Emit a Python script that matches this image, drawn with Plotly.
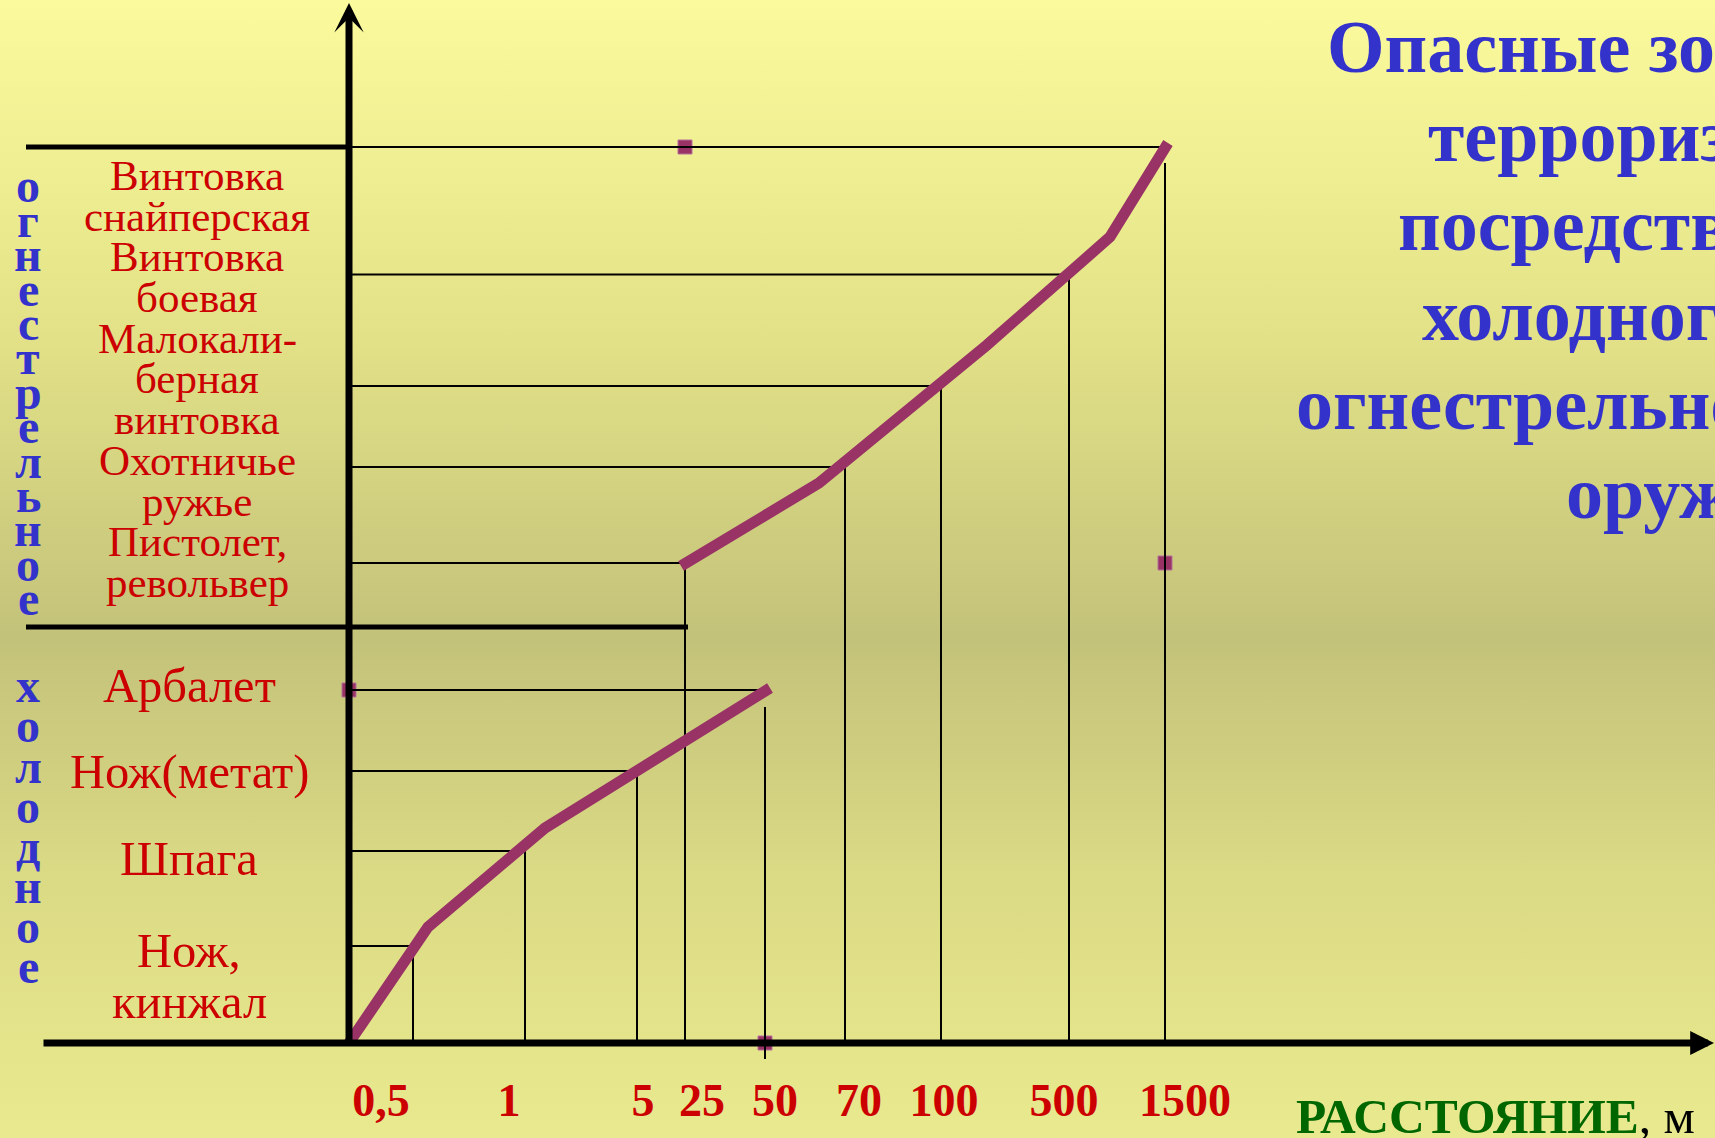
import plotly.graph_objects as go

W, H = 1715, 1138

# ---------------- data (schematic units) ----------------
distance_labels = ["0,5", "1", "5", "25", "50", "70", "100", "500", "1500"]
distance_label_x = [3.2, 16.0, 29.4, 35.3, 42.6, 51.0, 59.5, 71.5, 83.6]

cold_weapons = ["Нож, кинжал", "Шпага", "Нож(метат)", "Арбалет"]
cold_reach_x = [6.4, 17.6, 28.8, 41.6]
cold_level_y = [9.7, 19.2, 27.2, 35.3]
cold_vline_top = [9.7, 19.2, 27.2, 33.6]
cold_vline_bottom = [0, 0, 0, -1.6]

fire_weapons = ["Пистолет, револьвер", "Охотничье ружье", "Малокалиберная винтовка",
                "Винтовка боевая", "Винтовка снайперская"]
fire_reach_x = [33.6, 49.6, 59.2, 72.0, 81.6]
fire_level_y = [48.0, 57.6, 65.7, 76.85, 89.6]
fire_vline_top = [48.0, 57.6, 65.7, 76.85, 88.0]

cold_curve_x = [0, 7.9, 19.6, 42.1]
cold_curve_y = [0, 11.6, 21.5, 35.5]
fire_curve_x = [33.2, 47.0, 63.8, 76.1, 81.9]
fire_curve_y = [47.7, 56.0, 69.8, 80.6, 90.0]

marker_x = [33.6, 0, 41.6, 81.6]
marker_y = [89.6, 35.3, 0, 48.0]

zone_divider_y = 41.6
zone_divider_end_x = 33.9
top_divider_y = 89.6
divider_start_x = -32.3

fire_label_lines = ["Винтовка", "снайперская", "Винтовка", "боевая", "Малокали-",
                    "берная", "винтовка", "Охотничье", "ружье", "Пистолет,", "револьвер"]
cold_label_lines = ["Арбалет", "Нож(метат)", "Шпага", "Нож,", "кинжал"]
fire_word = "огнестрельное"
cold_word = "холодное"
title_lines = ["Опасные зоны", "терроризма", "посредством", "холодного и",
               "огнестрельного", "оружия"]
axis_title_main = "РАССТОЯНИЕ"
axis_title_unit = ", м"

# ---------------- layout constants ----------------
X0, X1 = -34.9, 136.6
Y0, Y1 = -9.5, 104.3
CURVE = "#993366"
RED = "#cc0000"
BLUE = "#3333cc"
GREEN = "#006600"
SERIF = "Liberation Serif"

fig = go.Figure()

# background gradient
fig.add_trace(go.Scatter(
    x=[X0, X1, X1, X0, X0], y=[Y0, Y0, Y1, Y1, Y0],
    mode="lines", fill="toself", line=dict(width=0, color="rgba(0,0,0,0)"),
    fillgradient=dict(type="vertical", start=Y0, stop=Y1,
                      colorscale=[[0.0, "#e9ea8f"], [0.22, "#dcdb85"],
                                  [0.44, "#c3c27a"], [0.70, "#e2e187"],
                                  [1.0, "#fbfb9d"]]),
    hoverinfo="skip", showlegend=False))

# markers (drawn beneath lines)
fig.add_trace(go.Scatter(
    x=marker_x, y=marker_y, mode="markers",
    marker=dict(symbol="square", size=14, color=CURVE,
                line=dict(color="#b5709a", width=1)),
    hoverinfo="skip", showlegend=False, cliponaxis=False))

# thin guide lines
hx, hy, vx, vy = [], [], [], []
for rx, ly, vt, vb in zip(cold_reach_x, cold_level_y, cold_vline_top, cold_vline_bottom):
    hx += [0, rx, None]; hy += [ly, ly, None]
    vx += [rx, rx, None]; vy += [vt, vb, None]
for rx, ly, vt in zip(fire_reach_x, fire_level_y, fire_vline_top):
    hx += [0, rx, None]; hy += [ly, ly, None]
    vx += [rx, rx, None]; vy += [vt, 0, None]
fig.add_trace(go.Scatter(x=hx + vx, y=hy + vy, mode="lines",
                         line=dict(color="black", width=2),
                         hoverinfo="skip", showlegend=False, cliponaxis=False))

# curves
for cx, cy in [(cold_curve_x, cold_curve_y), (fire_curve_x, fire_curve_y)]:
    fig.add_trace(go.Scatter(x=cx, y=cy, mode="lines",
                             line=dict(color=CURVE, width=11),
                             hoverinfo="skip", showlegend=False, cliponaxis=False))

# thick dividers
fig.add_trace(go.Scatter(
    x=[divider_start_x, 0, None, divider_start_x, zone_divider_end_x],
    y=[top_divider_y, top_divider_y, None, zone_divider_y, zone_divider_y],
    mode="lines", line=dict(color="black", width=5),
    hoverinfo="skip", showlegend=False, cliponaxis=False))

annotations = []
# axes with arrows
annotations.append(dict(x=0, y=104.0, ax=0, ay=-0.3, xref="x", yref="y",
                        axref="x", ayref="y", text="", showarrow=True,
                        arrowhead=3, arrowwidth=7, arrowsize=0.7,
                        arrowcolor="black", standoff=0))
annotations.append(dict(x=136.5, y=0, ax=-30.7, ay=0, xref="x", yref="y",
                        axref="x", ayref="y", text="", showarrow=True,
                        arrowhead=2, arrowwidth=7, arrowsize=0.68,
                        arrowcolor="black", standoff=0))


def text_ann(text, px, baseline, size, color, bold=False, xanchor="center"):
    cy = baseline - 0.3375 * size
    return dict(text=text, x=px / W, y=1 - cy / H, xref="paper", yref="paper",
                xanchor=xanchor, yanchor="middle", showarrow=False,
                font=dict(family=SERIF, size=size, color=color,
                          weight="bold" if bold else "normal"))


for i, t in enumerate(fire_label_lines):
    annotations.append(text_ann(t, 197, 190 + 40.7 * i, 43, RED))
for t, b in zip(cold_label_lines, [702, 788, 875, 967, 1018]):
    annotations.append(text_ann(t, 189, b, 48.5, RED))
for i, ch in enumerate(fire_word):
    annotations.append(text_ann(ch, 28, 202 + 34.4 * i, 48, BLUE, bold=True))
for i, ch in enumerate(cold_word):
    annotations.append(text_ann(ch, 28, 702 + 40.1 * i, 48, BLUE, bold=True))
for i, t in enumerate(title_lines):
    annotations.append(text_ann(t, 1818, 72 + 89.2 * i, 74, BLUE, bold=True,
                                xanchor="right"))
annotations.append(text_ann(
    "<b><span style='color:%s'>%s</span></b>%s" % (GREEN, axis_title_main, axis_title_unit),
    1294, 1133, 49.5, "black", xanchor="left"))

fig.update_layout(
    width=W, height=H, autosize=False,
    margin=dict(l=0, r=0, t=0, b=0, pad=0),
    paper_bgcolor="#e9e98e", plot_bgcolor="rgba(0,0,0,0)",
    showlegend=False,
    annotations=annotations,
    xaxis=dict(range=[X0, X1], domain=[0, 1], anchor="free",
               position=(H - 1043) / H,
               showgrid=False, zeroline=False, showline=False, ticks="",
               tickmode="array", tickvals=distance_label_x, ticktext=distance_labels,
               tickfont=dict(family=SERIF, size=46, color=RED, weight="bold"),
               ticklabelstandoff=26, automargin=False, fixedrange=True),
    yaxis=dict(range=[Y0, Y1], domain=[0, 1], showgrid=False, zeroline=False,
               showline=False, showticklabels=False, ticks="",
               automargin=False, fixedrange=True),
)

fig.write_html("out.html", config={"displayModeBar": False},
               post_script="document.body.style.margin='0';document.body.style.overflow='hidden';")
